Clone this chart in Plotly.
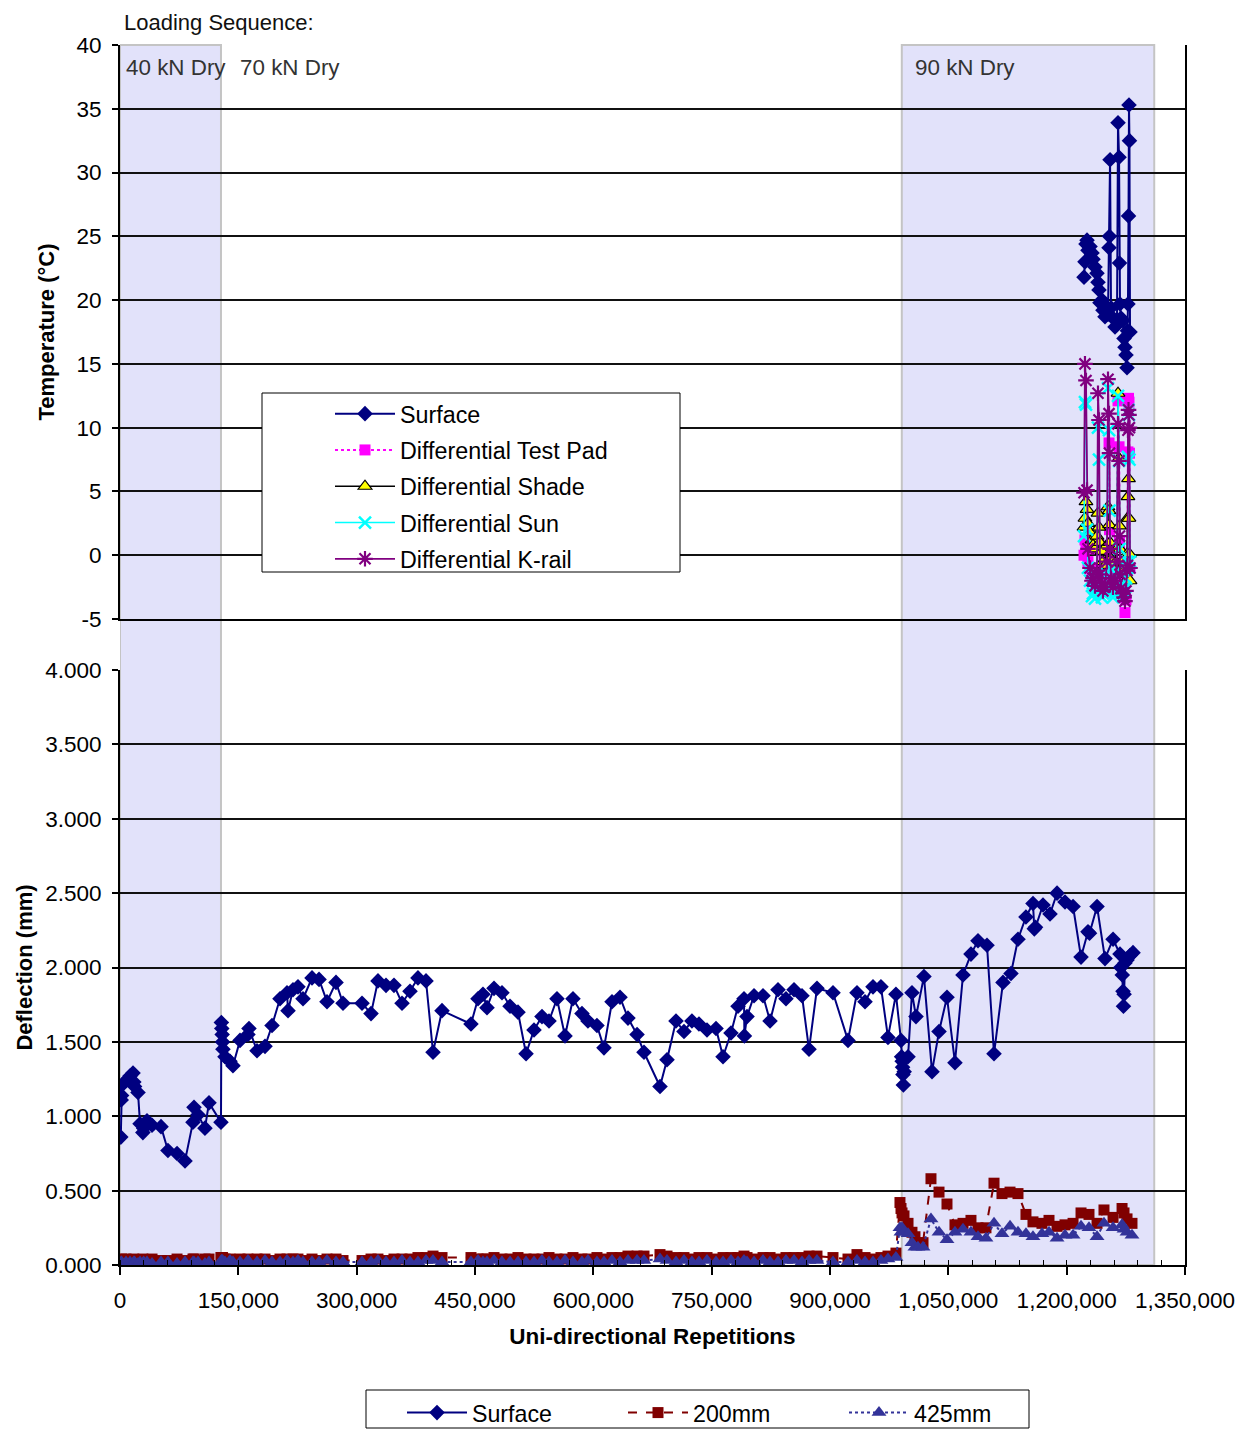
import plotly.graph_objects as go

FONT = "Liberation Sans, Arial, sans-serif"

# ---------------- Deflection data (bottom panel) ----------------
surf_x = [1000, 1500, 2000, 2500, 7600, 12700, 16500, 17500, 18500, 22800,
          25400, 29000, 30000, 34200, 40600, 52000, 60800, 72300, 82400, 92500,
          93800, 98900, 107700, 112800, 128000, 128500, 129000, 129500, 130000, 130500,
          133100, 139400, 143200, 152100, 162200, 163500, 173700, 183800, 192700, 202800,
          211700, 213000, 219300, 225600, 232000, 243400, 252300, 262400, 273800, 282700,
          306800, 318200, 327000, 337200, 347300, 357500, 367600, 377700, 387900, 396800,
          408200, 444900, 453800, 460100, 465200, 474100, 484200, 494400, 504500, 514700,
          524800, 534900, 543800, 553900, 564100, 574200, 585600, 593200, 604600, 613500,
          623700, 633800, 643900, 655400, 664200, 684500, 693400, 704800, 714900, 725000,
          733900, 744100, 755500, 764400, 774500, 783400, 791000, 791500, 794800, 803700,
          815100, 824000, 834100, 844200, 854400, 864500, 873400, 883500, 903800, 922800,
          934200, 944400, 954500, 964600, 973500, 983600,
          990000, 990800, 991500, 992000, 992500, 993000, 994000, 998900, 1003900, 1009000,
          1019100, 1029300, 1038200, 1048300, 1058400, 1068600, 1078700, 1087600, 1099000, 1107900,
          1119300, 1129400, 1138300, 1148400, 1157300, 1159000, 1160500, 1170000, 1178900, 1187800,
          1197900, 1208100, 1218200, 1227000, 1229000, 1238500, 1248600, 1258800, 1267600, 1268500,
          1270500, 1271400, 1272000, 1272800, 1273900, 1276500, 1280300, 1284100]
surf_d = [0.86, 1.11, 1.14, 1.21, 1.24, 1.27, 1.29, 1.23, 1.20, 1.16,
          0.95, 0.89, 0.92, 0.97, 0.94, 0.93, 0.77, 0.75, 0.70, 0.96,
          1.06, 1.01, 0.92, 1.09, 0.96, 1.63, 1.59, 1.55, 1.50, 1.45,
          1.40, 1.37, 1.34, 1.51, 1.55, 1.59, 1.44, 1.47, 1.61, 1.79,
          1.83, 1.71, 1.85, 1.87, 1.79, 1.93, 1.92, 1.77, 1.90, 1.76,
          1.76, 1.69, 1.91, 1.88, 1.88, 1.76, 1.84, 1.93, 1.91, 1.43,
          1.71, 1.62, 1.79, 1.82, 1.73, 1.86, 1.83, 1.74, 1.70, 1.42,
          1.58, 1.67, 1.64, 1.79, 1.54, 1.79, 1.69, 1.64, 1.61, 1.46,
          1.77, 1.80, 1.66, 1.55, 1.43, 1.20, 1.38, 1.64, 1.57, 1.64,
          1.62, 1.58, 1.59, 1.40, 1.56, 1.74, 1.79, 1.54, 1.67, 1.81,
          1.81, 1.64, 1.85, 1.79, 1.85, 1.81, 1.45, 1.86, 1.83, 1.51,
          1.83, 1.77, 1.87, 1.87, 1.53, 1.82,
          1.51, 1.40, 1.37, 1.33, 1.28, 1.21, 1.30, 1.40, 1.83, 1.67,
          1.94, 1.30, 1.57, 1.80, 1.36, 1.95, 2.09, 2.18, 2.15, 1.42,
          1.90, 1.96, 2.19, 2.34, 2.43, 2.26, 2.27, 2.42, 2.36, 2.50,
          2.44, 2.41, 2.07, 2.24, 2.23, 2.41, 2.06, 2.19, 2.09, 2.00,
          1.95, 1.84, 1.74, 1.82, 2.03, 2.05, 2.08, 2.10]

d200_early = [0.03, 0.03, 0.04, 0.03, 0.04, 0.03, 0.03, 0.04, 0.03, 0.03,
              0.03, 0.04, 0.03, 0.03, 0.04, 0.03, 0.03, 0.04, 0.03, 0.04,
              0.04, 0.03, 0.04, 0.04, 0.05, 0.05, 0.05, 0.04, 0.05, 0.04,
              0.04, 0.04, 0.03, 0.04, 0.04, 0.03, 0.04, 0.04, 0.03, 0.04,
              0.04, 0.03, 0.04, 0.04, 0.03, 0.04, 0.03, 0.04, 0.04, 0.03,
              0.03, 0.04, 0.04, 0.03, 0.04, 0.04, 0.04, 0.05, 0.05, 0.06,
              0.05, 0.05, 0.04, 0.04, 0.04, 0.05, 0.04, 0.04, 0.05, 0.04,
              0.04, 0.04, 0.05, 0.04, 0.04, 0.05, 0.04, 0.04, 0.05, 0.04,
              0.05, 0.05, 0.06, 0.06, 0.06, 0.07, 0.06, 0.05, 0.05, 0.04,
              0.05, 0.05, 0.04, 0.05, 0.05, 0.05, 0.06, 0.05, 0.05, 0.04,
              0.05, 0.05, 0.04, 0.05, 0.05, 0.05, 0.06, 0.06, 0.05, 0.04,
              0.07, 0.05, 0.04, 0.05, 0.06, 0.08]
d425_early = [0.01, 0.02, 0.02, 0.01, 0.02, 0.02, 0.01, 0.02, 0.02, 0.01,
              0.02, 0.01, 0.02, 0.02, 0.01, 0.02, 0.02, 0.01, 0.02, 0.02,
              0.02, 0.02, 0.01, 0.02, 0.02, 0.03, 0.03, 0.02, 0.03, 0.02,
              0.02, 0.03, 0.02, 0.02, 0.03, 0.02, 0.02, 0.03, 0.02, 0.02,
              0.03, 0.02, 0.02, 0.03, 0.02, 0.02, 0.02, 0.03, 0.02, 0.02,
              0.02, 0.02, 0.03, 0.02, 0.02, 0.03, 0.02, 0.02, 0.03, 0.03,
              0.02, 0.02, 0.03, 0.02, 0.02, 0.03, 0.02, 0.02, 0.02, 0.02,
              0.02, 0.03, 0.02, 0.02, 0.03, 0.02, 0.02, 0.03, 0.02, 0.02,
              0.03, 0.02, 0.03, 0.03, 0.03, 0.04, 0.03, 0.02, 0.03, 0.02,
              0.02, 0.03, 0.02, 0.02, 0.03, 0.02, 0.03, 0.02, 0.02, 0.02,
              0.03, 0.02, 0.02, 0.03, 0.03, 0.02, 0.03, 0.03, 0.02, 0.02,
              0.03, 0.02, 0.02, 0.03, 0.04, 0.05]

dep_x_late = [988700, 990000, 991300, 993800, 998900, 1003900, 1007700, 1011500, 1017900, 1028000,
              1038200, 1048300, 1058400, 1068600, 1078700, 1087600, 1097700, 1107900, 1118000, 1128200,
              1138300, 1148400, 1157300, 1168700, 1177600, 1187800, 1197900, 1208100, 1218200, 1228300,
              1238500, 1247300, 1258800, 1270200, 1272700, 1276500, 1282800]
d200_late = [0.42, 0.38, 0.35, 0.33, 0.28, 0.22, 0.19, 0.15, 0.15, 0.58,
             0.49, 0.41, 0.27, 0.28, 0.30, 0.25, 0.25, 0.55, 0.48, 0.49,
             0.48, 0.34, 0.29, 0.28, 0.30, 0.26, 0.27, 0.28, 0.35, 0.34,
             0.28, 0.37, 0.32, 0.38, 0.35, 0.31, 0.28]
d425_late = [0.25, 0.22, 0.25, 0.22, 0.21, 0.15, 0.12, 0.12, 0.12, 0.31,
             0.22, 0.17, 0.22, 0.24, 0.22, 0.19, 0.18, 0.28, 0.21, 0.26,
             0.22, 0.21, 0.19, 0.21, 0.22, 0.18, 0.20, 0.20, 0.26, 0.25,
             0.19, 0.28, 0.25, 0.27, 0.24, 0.22, 0.20]

dep_x = surf_x[:len(d200_early)] + dep_x_late
d200 = d200_early + d200_late
d425 = d425_early + d425_late

# ---------------- Temperature data (top panel) ----------------
temp_x = [1222000, 1223200, 1224500, 1225800, 1227000, 1229600, 1232100, 1233400, 1235900, 1238400,
          1239700, 1241000, 1242200, 1244800, 1246000, 1248600, 1251100, 1252400, 1253700, 1254300,
          1255000, 1256200, 1258700, 1261300, 1263800, 1265100, 1266400, 1267000, 1267600, 1268900,
          1271400, 1272700, 1273900, 1275200, 1276500, 1277100, 1277700, 1278400, 1279000, 1279600,
          1280300]
t_surface = [21.8, 23.0, 24.4, 24.7, 23.9, 24.2, 23.7, 23.2, 22.6, 22.1,
             21.4, 20.8, 19.8, 20.0, 19.2, 18.7, 19.4, 18.9, 24.1, 25.0,
             31.0, 19.4, 18.6, 17.9, 18.4, 33.9, 31.2, 22.9, 19.7, 18.6,
             18.4, 17.0, 16.3, 15.7, 14.7, 17.6, 19.7, 26.6, 35.3, 32.5,
             17.5]
t_pad = [0.0, 1.2, 1.0, 0.5, -0.5, -1.0, -1.5, -1.2, -1.8, -1.0,
         0.5, 0.8, -1.0, -1.5, -2.0, -1.8, -0.8, 0.5, 8.8, 2.0,
         -0.5, -1.5, -2.0, -1.6, -0.8, 12.1, 8.5, 1.0, -1.2, -2.0,
         -2.4, -2.8, -4.5, -3.5, -0.9, -0.5, 8.1, 12.3, 12.0, 8.0,
         -1.0]
t_shade = [2.2, 2.9, 4.2, 3.6, 2.5, 1.8, 1.2, 0.8, 0.5, 1.5,
           3.3, 2.2, 1.0, 0.3, -0.5, -0.8, 0.8, 3.8, 3.5, 2.4,
           1.0, -0.3, -1.0, -0.6, 0.5, 12.7, 7.6, 2.3, 0.5, -0.5,
           -1.0, -1.2, -1.5, -2.0, 0.1, 2.9, 4.6, 6.0, 2.9, 0.1,
           -2.0]
t_sun = [1.5, 12.0, 11.8, 2.0, -1.0, -2.0, -3.2, -3.0, -3.4, -2.5,
         10.0, 7.5, -2.8, -3.3, -3.0, -2.6, -1.5, 13.1, 9.8, 3.5,
         -1.0, -2.8, -3.3, -2.9, -1.2, 12.5, 7.4, 0.5, -2.5, -3.0,
         -3.2, -2.8, -2.5, -1.8, -0.5, -1.0, 7.7, 11.4, 11.0, 7.5,
         -0.5]
t_krail = [4.9, 15.0, 13.7, 5.1, 0.5, -1.0, -2.0, -1.8, -2.4, -1.2,
           12.7, 10.6, -1.5, -2.2, -2.8, -2.5, -0.5, 13.8, 11.1, 8.0,
           0.5, -1.8, -2.5, -2.0, -0.5, 10.3, 7.4, 1.5, -1.5, -2.6,
           -3.0, -3.3, -3.6, -2.8, -1.2, -0.8, 9.8, 11.4, 11.0, 10.0,
           -1.0]

# loading sequence phases (repetitions)
phase_40_end = 128000
phase_90_start = 991000
phase_90_end = 1311000
phase_labels = ["40 kN Dry", "70 kN Dry", "90 kN Dry"]
phase_label_x = [5000, 150000, 1005000]

x_ticks = [0, 150000, 300000, 450000, 600000, 750000, 900000, 1050000, 1200000, 1350000]
temp_ticks = [-5, 0, 5, 10, 15, 20, 25, 30, 35, 40]
temp_ticktext = ["-5", "0", "5", "10", "15", "20", "25", "30", "35", "40"]

fig = go.Figure()

# top panel traces
fig.add_trace(go.Scatter(x=temp_x, y=t_surface, name="Surface", mode="lines+markers",
                         line=dict(color="#000080", width=2),
                         marker=dict(symbol="diamond", size=12, color="#000080"),
                         xaxis="x", yaxis="y", legend="legend", legendgroup="a"))
fig.add_trace(go.Scatter(x=temp_x, y=t_pad, name="Differential Test Pad", mode="lines+markers",
                         line=dict(color="#FF00FF", width=2, dash="dot"),
                         marker=dict(symbol="square", size=11, color="#FF00FF"),
                         xaxis="x", yaxis="y", legend="legend", legendgroup="b"))
fig.add_trace(go.Scatter(x=temp_x, y=t_shade, name="Differential Shade", mode="lines+markers",
                         line=dict(color="#000000", width=1.5),
                         marker=dict(symbol="triangle-up", size=12, color="#FFFF00",
                                     line=dict(color="#000000", width=1.2)),
                         xaxis="x", yaxis="y", legend="legend", legendgroup="c"))
fig.add_trace(go.Scatter(x=temp_x, y=t_sun, name="Differential Sun", mode="lines+markers",
                         line=dict(color="#00FFFF", width=1.5),
                         marker=dict(symbol="x-thin-open", size=12, color="#00FFFF",
                                     line=dict(color="#00FFFF", width=2.5)),
                         xaxis="x", yaxis="y", legend="legend", legendgroup="d"))
fig.add_trace(go.Scatter(x=temp_x, y=t_krail, name="Differential K-rail", mode="lines+markers",
                         line=dict(color="#800080", width=1.8),
                         marker=dict(symbol="asterisk-open", size=13, color="#800080",
                                     line=dict(color="#800080", width=2.2)),
                         xaxis="x", yaxis="y", legend="legend", legendgroup="e"))

# bottom panel traces
fig.add_trace(go.Scatter(x=surf_x, y=surf_d, name="Surface", mode="lines+markers",
                         line=dict(color="#000080", width=2),
                         marker=dict(symbol="diamond", size=12, color="#000080"),
                         xaxis="x2", yaxis="y2", legend="legend2"))
fig.add_trace(go.Scatter(x=dep_x, y=d200, name="200mm", mode="lines+markers",
                         line=dict(color="#800000", width=2, dash="dash"),
                         marker=dict(symbol="square", size=11, color="#800000"),
                         xaxis="x2", yaxis="y2", legend="legend2"))
fig.add_trace(go.Scatter(x=dep_x, y=d425, name="425mm", mode="lines+markers",
                         line=dict(color="#333399", width=2, dash="dot"),
                         marker=dict(symbol="triangle-up", size=13, color="#333399"),
                         xaxis="x2", yaxis="y2", legend="legend2"))

# page body has an 8 px margin; all page positions below are in page pixels
OFF = 8
W, H = 1247 - OFF, 1430 - OFF
PL, PR, PT, PB = 120, 1185, 45, 1265  # plot area in page pixels
L = PL - OFF
T = PT - OFF
R = W - (PR - OFF)
B = H - (PB - OFF)
PH = PB - PT
PW = PR - PL


def py(p):
    return (PB - p) / PH


def px(p):
    return (p - PL) / PW


shapes = [
    dict(type="rect", xref="x", yref="paper", x0=0, x1=phase_40_end, y0=0, y1=1,
         fillcolor="#E2E2FA", line=dict(color="#C4C4C4", width=2), layer="below"),
    dict(type="rect", xref="x", yref="paper", x0=phase_90_start, x1=phase_90_end, y0=0, y1=1,
         fillcolor="#E2E2FA", line=dict(color="#C4C4C4", width=2), layer="below"),
    # legend boxes
    dict(type="rect", xref="paper", yref="paper", x0=px(262), x1=px(680), y0=py(572), y1=py(393),
         fillcolor="white", line=dict(color="black", width=1), layer="above"),
    dict(type="rect", xref="paper", yref="paper", x0=px(366), x1=px(1029), y0=py(1428), y1=py(1390),
         fillcolor="white", line=dict(color="black", width=1), layer="above"),
]

annotations = [
    dict(text="Loading Sequence:", xref="paper", yref="paper", x=px(123), y=py(22),
         xanchor="left", yanchor="middle", showarrow=False, borderpad=0,
         font=dict(size=22, color="#111")),
]
for lab, lx in zip(phase_labels, phase_label_x):
    annotations.append(dict(text=lab, xref="x", yref="paper", x=lx, y=py(67),
                            xanchor="left", yanchor="middle", showarrow=False,
                            font=dict(size=22.4, color="#333")))

TF = 22.5
axis_common = dict(showline=True, linecolor="black", linewidth=2, mirror=True,
                   ticks="outside", ticklen=6, tickwidth=2, tickcolor="black",
                   ticklabelstandoff=6,
                   tickfont=dict(size=TF, color="black"), zeroline=False)

fig.update_layout(
    width=W, height=H,
    margin=dict(l=L, r=R, t=T, b=B, autoexpand=False),
    paper_bgcolor="white", plot_bgcolor="rgba(0,0,0,0)",
    font=dict(family=FONT, color="black"),
    shapes=shapes, annotations=annotations,
    xaxis=dict(domain=[0, 1], anchor="y", range=[0, 1350000], showticklabels=False,
               showgrid=False, showline=True, linecolor="black", linewidth=2, mirror=False,
               ticks="", zeroline=False),
    yaxis=dict(domain=[py(619), 1], anchor="x", range=[-5, 40],
               tickvals=temp_ticks, ticktext=temp_ticktext,
               showgrid=True, gridcolor="#111", gridwidth=2,
               title=dict(text="<b>Temperature (°C)</b>", font=dict(size=22), standoff=16),
               **axis_common),
    xaxis2=dict(domain=[0, 1], anchor="y2", range=[0, 1350000], tickvals=x_ticks,
                tickformat=",d", showgrid=False,
                minor=dict(dtick=30000, ticks="inside", ticklen=5, tickwidth=1, tickcolor="black"),
                title=dict(text="<b>Uni-directional Repetitions</b>", font=dict(size=22.5), standoff=16),
                showline=True, linecolor="black", linewidth=2, mirror=False,
                ticks="outside", ticklen=8, tickwidth=2, tickcolor="black",
                ticklabelstandoff=6,
                tickfont=dict(size=TF, color="black"), zeroline=False),
    yaxis2=dict(domain=[0, py(670)], anchor="x2", range=[0, 4], dtick=0.5, tick0=0,
                tickformat=".3f", showgrid=True, gridcolor="#111", gridwidth=2,
                title=dict(text="<b>Deflection (mm)</b>", font=dict(size=22), standoff=6),
                **axis_common),
    legend=dict(x=px(330), y=py(392), xanchor="left", yanchor="top",
                bgcolor="rgba(0,0,0,0)", borderwidth=0, tracegroupgap=3,
                font=dict(size=23.3, color="black"), itemwidth=60),
    legend2=dict(orientation="h", x=px(402), y=py(1413), xanchor="left", yanchor="middle",
                 bgcolor="rgba(0,0,0,0)", borderwidth=0, entrywidth=146, entrywidthmode="pixels",
                 font=dict(size=23.2, color="black"), itemwidth=60),
    showlegend=True,
)

fig.write_html("out.html")
